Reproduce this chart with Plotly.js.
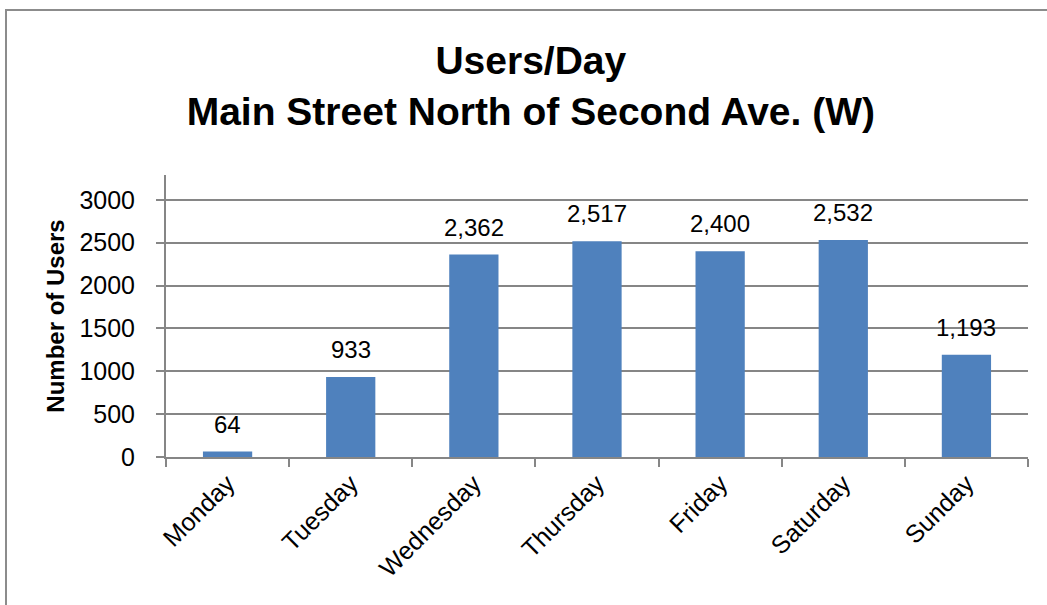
<!DOCTYPE html>
<html>
<head>
<meta charset="utf-8">
<script src="https://cdn.plot.ly/plotly-3.0.1.min.js"></script>
<style>
html,body{margin:0;padding:0;background:#fff;overflow:hidden;}
#frame{position:absolute;left:5px;top:9px;width:1100px;height:700px;border-left:2px solid #8c8c8c;border-top:2px solid #8c8c8c;pointer-events:none;z-index:5;}
#chart{position:absolute;left:0;top:0;width:1047px;height:605px;}
</style>
</head>
<body>
<div id="chart"></div>
<div id="frame"></div>
<script>
var days = ["Monday","Tuesday","Wednesday","Thursday","Friday","Saturday","Sunday"];
var users = [64, 933, 2362, 2517, 2400, 2532, 1193];
var yTicks = [0, 500, 1000, 1500, 2000, 2500, 3000];
var titleText = "Users/Day<br>Main Street North of Second Ave. (W)";
var yTitle = "Number of Users";

var FONT = "Liberation Sans, Arial, sans-serif";

var trace = {
  type: "bar",
  x: days,
  y: users,
  width: 0.4,
  marker: {color: "#4f81bd"},
  hoverinfo: "x+y"
};

var annotations = days.map(function(d, i){
  return {
    x: d, y: users[i], xref: "x", yref: "y",
    text: users[i].toLocaleString("en-US"),
    showarrow: false, yanchor: "bottom", yshift: 12,
    font: {family: FONT, size: 24, color: "#000"}
  };
});

var layout = {
  width: 1047, height: 605,
  margin: {l: 166, r: 19, t: 175, b: 148, autoexpand: false},
  paper_bgcolor: "#fff", plot_bgcolor: "#fff",
  showlegend: false,
  title: {
    text: titleText,
    font: {family: FONT, size: 39, color: "#000", weight: "bold"},
    xref: "container", yref: "container",
    x: 0.507, xanchor: "center",
    y: 0.877, yanchor: "middle"
  },
  xaxis: {
    type: "category",
    tickson: "boundaries",
    ticks: "outside", ticklen: 8, tickcolor: "#868686", tickwidth: 2,
    showline: true, linecolor: "#868686", linewidth: 2,
    showgrid: false,
    tickangle: -45,
    tickfont: {family: FONT, size: 25, color: "#000"},
    automargin: false
  },
  yaxis: {
    range: [0, 3290],
    tickvals: yTicks,
    ticktext: yTicks.map(String),
    ticks: "outside", ticklen: 8, tickcolor: "#868686", tickwidth: 2,
    showline: true, linecolor: "#868686", linewidth: 2,
    showgrid: true, gridcolor: "#868686", gridwidth: 2,
    zeroline: false,
    ticklabelstandoff: 16,
    tickfont: {family: FONT, size: 25, color: "#000"},
    title: {text: yTitle, font: {family: FONT, size: 24, color: "#000", weight: "bold"}, standoff: 8},
    automargin: false
  },
  annotations: annotations,
  bargap: 0.6
};

Plotly.newPlot("chart", [trace], layout, {displayModeBar: false, staticPlot: true});
</script>
</body>
</html>
